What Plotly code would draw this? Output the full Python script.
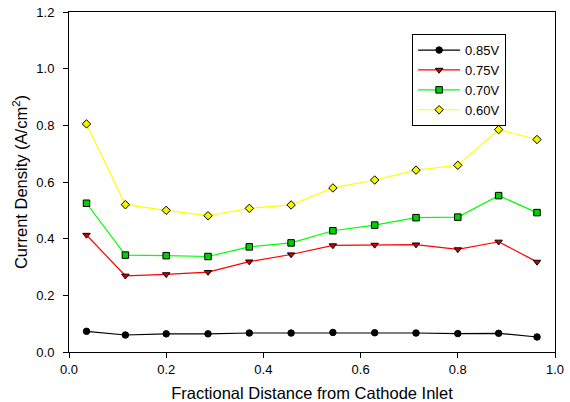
import plotly.graph_objects as go

x = [0.036, 0.116, 0.200, 0.286, 0.371, 0.457, 0.543, 0.629, 0.714, 0.800, 0.884, 0.963]
v085 = [0.073, 0.060, 0.064, 0.064, 0.067, 0.067, 0.069, 0.068, 0.067, 0.065, 0.066, 0.053]
v075 = [0.413, 0.269, 0.274, 0.282, 0.319, 0.344, 0.376, 0.378, 0.379, 0.362, 0.389, 0.318]
v070 = [0.525, 0.342, 0.340, 0.337, 0.371, 0.385, 0.428, 0.448, 0.474, 0.476, 0.552, 0.492]
v060 = [0.805, 0.520, 0.500, 0.481, 0.507, 0.519, 0.579, 0.607, 0.642, 0.659, 0.785, 0.750]

series = [
    ("0.85V", v085, "black", "black", "circle", 6.5),
    ("0.75V", v075, "#ff0000", "#d00000", "triangle-down", 6.5),
    ("0.70V", v070, "#00ff00", "#00d000", "square", 6.5),
    ("0.60V", v060, "#ffff00", "#f4f400", "diamond", 6.5),
]

FONT = "Liberation Sans, Arial, sans-serif"

fig = go.Figure()
for name, vals, lc, mc, sym, sz in series:
    fig.add_trace(go.Scatter(
        x=x, y=vals, name=name, mode="lines+markers",
        line=dict(color=lc, width=1.2),
        marker=dict(symbol=sym, size=sz, color=mc, line=dict(color="black", width=1)),
    ))

axis_common = dict(
    showline=True, linecolor="black", linewidth=1, mirror=True,
    ticks="outside", ticklen=5, tickcolor="black", tickwidth=1,
    showgrid=False, zeroline=False, automargin=False,
    ticklabeloverflow="allow",
    tickfont=dict(family=FONT, size=13, color="black"),
    tickformat=".1f",
)

fig.update_xaxes(range=[0, 1.0], dtick=0.2, tick0=0,
                 title=dict(text="Fractional Distance from Cathode Inlet",
                            font=dict(family=FONT, size=16.5, color="black"),
                            standoff=11),
                 **axis_common)
fig.update_yaxes(range=[0, 1.2], dtick=0.2, tick0=0, ticklabelstandoff=6,
                 title=dict(text="Current Density (A/cm<sup>2</sup>)",
                            font=dict(family=FONT, size=16.5, color="black"),
                            standoff=4),
                 **axis_common)

fig.update_layout(
    width=570, height=402,
    margin=dict(l=69, r=15, t=12, b=50),
    plot_bgcolor="white", paper_bgcolor="white",
    legend=dict(x=0.706, y=0.935, xanchor="left", yanchor="top",
                bgcolor="white", bordercolor="black", borderwidth=1,
                font=dict(family=FONT, size=13, color="black"),
                itemwidth=42, tracegroupgap=0),
    showlegend=True,
)

fig.write_html("out.html", config={"displayModeBar": False},
               post_script="document.body.style.margin='0';")
